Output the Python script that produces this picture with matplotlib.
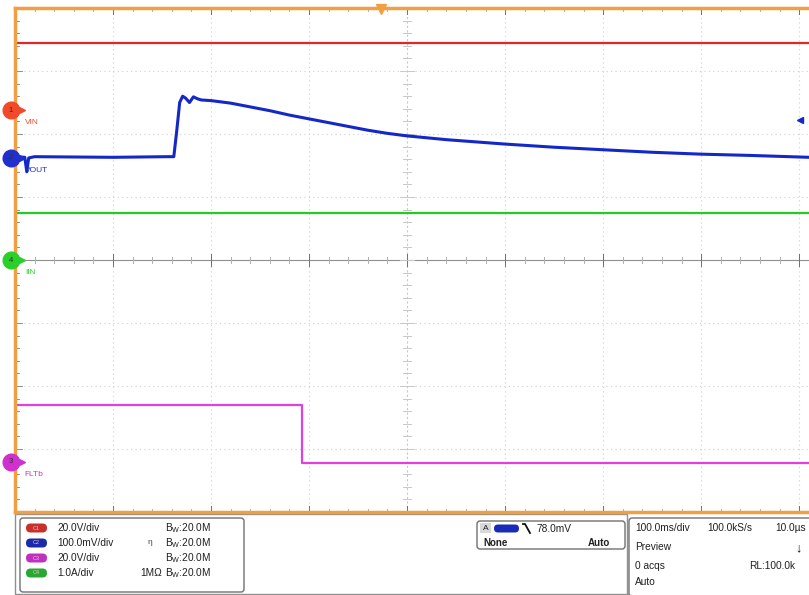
import matplotlib.pyplot as plt
from matplotlib.patches import FancyBboxPatch, Rectangle

# time in ms (100 ms/div), levels in screen divisions (8 vertical divs)
vin_t = [-400, 410]
vin_y = [3.44, 3.44]

vout_t = [-400, -390, -388, -386, -380, -300, -245, -238, -235, -232, -229, -226,
          -222, -218, -214, -210, -200, -180, -160, -140, -120, -100, -80, -60,
          -40, -20, 0, 40, 100, 150, 200, 250, 300, 350, 410]
vout_y = [1.64, 1.63, 1.40, 1.62, 1.64, 1.63, 1.64, 1.64, 2.05, 2.50, 2.60, 2.57,
          2.50, 2.59, 2.56, 2.54, 2.53, 2.49, 2.43, 2.37, 2.30, 2.24, 2.18, 2.12,
          2.06, 2.01, 1.97, 1.91, 1.84, 1.79, 1.75, 1.71, 1.68, 1.66, 1.63]

iin_t = [-400, 410]
iin_y = [0.745, 0.745]

fltb_t = [-400, -107, -107, 410]
fltb_y = [-2.30, -2.30, -3.22, -3.22]

# ground markers (divs) for each channel
markers = [("1", 2.38, "#f04a2a", "VIN"), ("2", 1.62, "#1f2fd0", "VOUT"),
           ("4", 0.0, "#2ad02a", "IIN"), ("3", -3.20, "#d030d0", "FLTb")]

ch_rows = [("C1", "#c8302c", "20.0V/div", ""), ("C2", "#1a2aa8", "100.0mV/div", "η"),
           ("C3", "#c030c0", "20.0V/div", ""), ("C4", "#28a830", "1.0A/div", "1MΩ")]

plt.rcParams['font.family'] = ['Liberation Sans', 'DejaVu Sans']

fig = plt.figure(figsize=(8.09, 5.95), dpi=100)
W, H = 809, 595

# overlay in pixel coordinates for the info panel
pan = fig.add_axes([0, 0, 1, 1])
pan.set_xlim(0, W)
pan.set_ylim(H, 0)
pan.axis('off')

# graticule axes: left 15px, top 8px, bottom 512px
ax = fig.add_axes([15 / W, 1 - 512 / H, (W - 15) / W, 504 / H])
ax.set_xlim(-400, 410)
ax.set_ylim(-4, 4)
ax.set_facecolor('white')
for s in ax.spines.values():
    s.set_visible(False)
ax.set_xticks([])
ax.set_yticks([])

grid_c = '#d0d0d0'
for i in range(-3, 5):
    if i == 0:
        continue
    ax.axvline(i * 100, color=grid_c, lw=0.8, ls=(0, (1, 3)), zorder=1)
for j in range(-3, 4):
    if j == 0:
        continue
    ax.axhline(j, color=grid_c, lw=0.8, ls=(0, (1, 3)), zorder=1)
ax.axvline(0, color='#c8c8c8', lw=0.8, ls=(0, (2, 2)), zorder=1)
ax.axhline(0, color='#909090', lw=0.8, zorder=1)

# minor ticks on centre lines and borders
for k in range(-20, 21):
    t = k * 20
    L = 0.05 if k % 5 else 0.09
    c = '#b0b0b0' if k % 5 else '#707070'
    ax.plot([t, t], [-L, L], color=c, lw=0.7, zorder=1)
    ax.plot([t, t], [4 - L, 4], color=c, lw=0.7, zorder=1)
    ax.plot([t, t], [-4, -4 + L], color=c, lw=0.7, zorder=1)
for k in range(-20, 21):
    y = k * 0.2
    L = 4 if k % 5 else 7
    ax.plot([-L, L], [y, y], color='#c8c8c8', lw=0.7, zorder=1)
    ax.plot([-400, -400 + L], [y, y], color='#909090', lw=0.7, zorder=1)

# orange borders
orange = '#f0a040'
ax.plot([-400, -400], [-4, 4], color=orange, lw=2.5, clip_on=False, zorder=5)
ax.plot([-400, 410], [4, 4], color=orange, lw=2.5, clip_on=False, zorder=5)
ax.plot([-400, 410], [-4, -4], color=orange, lw=2.5, clip_on=False, zorder=5)

# traces
ax.plot(vin_t, vin_y, color='#e02828', lw=1.6, zorder=3)
ax.plot(iin_t, iin_y, color='#22cc22', lw=1.6, zorder=3)
ax.plot(fltb_t, fltb_y, color='#e040e0', lw=1.6, zorder=3)
ax.plot(vout_t, vout_y, color='#1428c8', lw=2.2, zorder=4)

# channel ground markers
for num, y, c, lab in markers:
    ax.plot(-404, y, marker='o', ms=12, color=c, clip_on=False, zorder=6)
    ax.text(-404, y, num, fontsize=5.5, ha='center', va='center', color='#303030', zorder=7)
    ax.plot(-393, y, marker='>', ms=4, color=c, clip_on=False, zorder=6)
    ax.plot([-398, -393], [y, y], color=c, lw=1, clip_on=False, zorder=6)
    ax.text(-390, y - 0.2, lab, fontsize=6, color=c, ha='left', va='center', zorder=7)

# trigger position and level markers
ax.plot(-27, 3.98, marker='v', ms=7, color=orange, clip_on=False, zorder=6)
ax.plot(401, 2.22, marker='<', ms=5, color='#1428c8', clip_on=False, zorder=6)

# ---- info panel ----
pan.add_patch(Rectangle((15, 514), 612, 80, fill=False, ec='#909090', lw=1))
pan.add_patch(FancyBboxPatch((20, 518), 224, 74, boxstyle='round,pad=0,rounding_size=3',
                             fill=False, ec='#707070', lw=1))
for i, (cn, c, scale, extra) in enumerate(ch_rows):
    y = 528 + i * 15
    pan.add_patch(FancyBboxPatch((26, y - 4.5), 21, 9, boxstyle='round,pad=0,rounding_size=4.5',
                                 fc=c, ec='none'))
    pan.text(36.5, y, cn, fontsize=4, color='#f0c0c0', ha='center', va='center')
    pan.text(57, y, scale, fontsize=7.3, ha='left', va='center', color='#202020')
    pan.text(165, y, r'$\mathregular{B_W}$:20.0M', fontsize=7.3, ha='left', va='center', color='#202020')
    if extra == "η":
        pan.text(150, y, extra, fontsize=6, ha='center', va='center', color='#404040')
    elif extra:
        pan.text(162, y, extra, fontsize=7.3, ha='right', va='center', color='#202020')

# trigger box
pan.add_patch(FancyBboxPatch((477, 521), 148, 28, boxstyle='round,pad=0,rounding_size=3',
                             fill=False, ec='#707070', lw=1))
pan.add_patch(Rectangle((480, 523), 11, 10, fc='#d8d8d8', ec='none'))
pan.text(485.5, 528.5, 'A', fontsize=6, ha='center', va='center', color='#202020')
pan.add_patch(FancyBboxPatch((494, 524.5), 25, 8, boxstyle='round,pad=0,rounding_size=4',
                             fc='#1a2ab8', ec='none'))
pan.plot([523, 525, 530], [524, 524, 533], color='#101010', lw=1.3)
pan.text(537, 528.5, '78.0mV', fontsize=7.3, ha='left', va='center', color='#202020')
pan.text(483, 543.5, 'None', fontsize=7, ha='left', va='center', color='#202020', weight='bold')
pan.text(610, 543.5, 'Auto', fontsize=7, ha='right', va='center', color='#202020', weight='bold')

# acquisition box
pan.add_patch(FancyBboxPatch((629, 518), 190, 80, boxstyle='round,pad=0,rounding_size=3',
                             fill=False, ec='#707070', lw=1))
pan.text(635, 528, '100.0ms/div', fontsize=7.3, ha='left', va='center', color='#202020')
pan.text(707, 528, '100.0kS/s', fontsize=7.3, ha='left', va='center', color='#202020')
pan.text(806, 528, '10.0µs', fontsize=7.3, ha='right', va='center', color='#202020')
pan.text(635, 547, 'Preview', fontsize=7.3, ha='left', va='center', color='#202020')
pan.text(798, 548, '↓', fontsize=9, ha='center', va='center', color='#101010', weight='bold')
pan.text(635, 566, '0 acqs', fontsize=7.3, ha='left', va='center', color='#202020')
pan.text(795, 566, 'RL:100.0k', fontsize=7.3, ha='right', va='center', color='#202020')
pan.text(635, 582, 'Auto', fontsize=7.3, ha='left', va='center', color='#202020')

fig.savefig('out.png', dpi=100)
